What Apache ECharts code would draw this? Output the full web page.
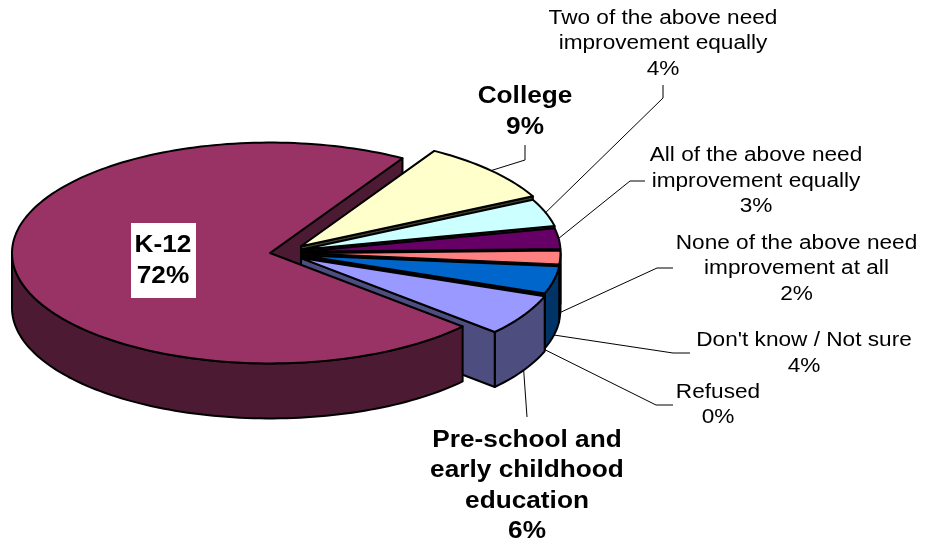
<!DOCTYPE html>
<html>
<head>
<meta charset="utf-8">
<style>html,body{margin:0;padding:0;background:#fff}#chart{width:931px;height:542px}</style>
<script src="https://cdn.jsdelivr.net/npm/echarts@6/dist/echarts.min.js"></script>
</head>
<body>
<div id="chart"></div>
<script>
// Survey shares, clockwise from the top of the cut-out wedge.
const categories = [
  'College',
  'Two of the above need\nimprovement equally',
  'All of the above need\nimprovement equally',
  'None of the above need\nimprovement at all',
  "Don't know / Not sure",
  'Refused',
  'Pre-school and\nearly childhood\neducation',
  'K-12'
];
const values = [9, 4, 3, 2, 4, 0, 6, 72];
const topColors = ['#FFFFCC', '#CCFFFF', '#660066', '#FF8080', '#0066CC', '#000000', '#9999FF', '#993366'];
const sideColors = ['#404033', '#334040', '#330033', '#402020', '#003366', '#000000', '#4D4D80', '#4D1A33'];
const boldLabels = [true, false, false, false, false, false, true, true];

// Pie projection
const MAIN = 7;                       // the one slice that stays in place
const startAngle = -59.1;             // degrees, clockwise from 3 o'clock
const centre = [270, 253];
const radius = 258;
const explodedRadius = 259.5;
const squash = 0.428;
const depth = 55;
const explodeX = 31;
const explodeY = 10;

// Label placement
const labelCentres = [[525, 112], [663, 44], [756, 181.5], [796.5, 269], [804, 353.5], [718, 405], [527, 486], [163, 261]];
const leaderBends = [
  [[525, 160], [525, 145]],
  [[663, 98], [663, 85]],
  [[630, 181], [645, 181]],
  [[657, 268], [673, 268]],
  [[673, 353], [690, 353]],
  [[656, 405], [673, 405]],
  [[527, 417]],
  []
];

const total = values.reduce((a, b) => a + b, 0);
const rad = d => d * Math.PI / 180;

// Angular span of each slice, accumulated from the values.
const spans = [];
values.reduce((from, v) => {
  const to = from + v / total * 360;
  spans.push([from, to]);
  return to;
}, startAngle);

function geometry(i) {
  const [a0, a1] = spans[i];
  const mid = (a0 + a1) / 2;
  const exploded = i !== MAIN;
  return {
    a0, a1, mid,
    r: exploded ? explodedRadius : radius,
    cx: centre[0] + (exploded ? explodeX : 0),
    cy: centre[1] + (exploded ? explodeY * Math.sin(rad(mid)) : 0)
  };
}

function rim(g, a, drop) {
  return [g.cx + g.r * Math.cos(rad(a)), g.cy + g.r * squash * Math.sin(rad(a)) + (drop || 0)];
}

function arc(g, from, to, drop) {
  const pts = [];
  const steps = Math.max(1, Math.ceil(Math.abs(to - from) / 1.5));
  for (let s = 0; s <= steps; s++) pts.push(rim(g, from + (to - from) * s / steps, drop));
  return pts;
}

const outline = { stroke: '#000', lineWidth: 2, lineJoin: 'round' };
const poly = (points, fill) => ({ type: 'polygon', shape: { points }, style: { fill, ...outline } });

// Straight cut face along the slice's closing edge.
function endFace(i) {
  const g = geometry(i);
  const p = rim(g, g.a1);
  return poly([[g.cx, g.cy], p, [p[0], p[1] + depth], [g.cx, g.cy + depth]], sideColors[i]);
}

// Outer wall, only where the rim faces the viewer.
function wallFace(i) {
  const g = geometry(i);
  const from = Math.max(g.a0, 0), to = Math.min(g.a1, 180);
  if (to <= from) return null;
  return poly(arc(g, from, to).concat(arc(g, to, from, depth)), sideColors[i]);
}

function topFace(i) {
  const g = geometry(i);
  if (g.a1 === g.a0) return null;
  return poly([[g.cx, g.cy]].concat(arc(g, g.a0, g.a1)), topColors[i]);
}

function sliceLabel(i) {
  const [x, y] = labelCentres[i];
  const bold = boldLabels[i];
  const size = bold ? 23 : 19.5;
  const lh = bold ? 30.5 : 25.5;
  const children = [];
  if (i === MAIN) {
    children.push({ type: 'rect', shape: { x: x - 32, y: y - 38, width: 65, height: 75 }, style: { fill: '#fff' } });
  }
  // Labels are set in slightly widened type.
  children.push({
    type: 'text',
    x, y,
    scaleX: bold ? 1.14 : 1.16,
    style: {
      x: 0, y: 0,
      text: categories[i] + '\n' + values[i] + '%',
      fill: '#000',
      font: (bold ? 'bold ' : '') + size + 'px "Liberation Sans", Arial, sans-serif',
      lineHeight: lh,
      align: 'center',
      verticalAlign: 'middle'
    }
  });
  return { type: 'group', children };
}

function leader(i) {
  if (!leaderBends[i].length) return null;
  const g = geometry(i);
  const start = rim(g, g.mid, g.mid > 0 ? depth : 0);
  return {
    type: 'polyline',
    shape: { points: [start].concat(leaderBends[i]) },
    style: { stroke: '#000', lineWidth: 1, fill: null }
  };
}

const indices = categories.map((_, i) => i);
const wedges = indices.filter(i => i !== MAIN);
const group = children => ({ type: 'group', children: children.filter(Boolean) });
const layer = (data, render) => ({
  type: 'custom',
  coordinateSystem: 'none',
  silent: true,
  animation: false,
  data: data.map(i => [i]),
  renderItem: (params, api) => render(api.value(0))
});

const chart = echarts.init(document.getElementById('chart'), null, { renderer: 'canvas' });
chart.setOption({
  backgroundColor: '#fff',
  animation: false,
  series: [
    layer(indices.filter(i => i === MAIN), i => endFace(i)),
    layer(wedges, i => group([wallFace(i), endFace(i), topFace(i)])),
    layer(wedges, leader),
    layer(indices.filter(i => i === MAIN), i => group([wallFace(i), topFace(i)])),
    layer(indices, sliceLabel)
  ]
});
</script>
</body>
</html>
